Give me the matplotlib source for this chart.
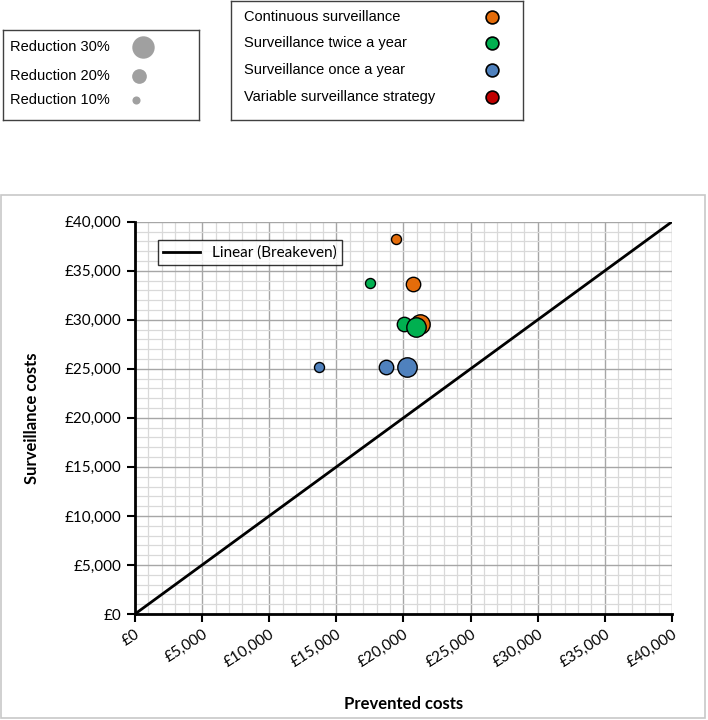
import numpy as np
import matplotlib
matplotlib.use("Agg")
import matplotlib.pyplot as plt
from matplotlib.patches import Rectangle
from matplotlib.ticker import MultipleLocator, FuncFormatter

# data
strategies = ["Continuous surveillance", "Surveillance twice a year",
              "Surveillance once a year", "Variable surveillance strategy"]
colors = ["#E46C0A", "#00B050", "#4F81BD", "#C00000"]
reductions = [10, 20, 30]
prevented = {
    "Continuous surveillance": [19450, 20740, 21240],
    "Surveillance twice a year": [17510, 20040, 20940],
    "Surveillance once a year": [13710, 18700, 20290],
}
surveillance = {
    "Continuous surveillance": [38200, 33650, 29550],
    "Surveillance twice a year": [33700, 29530, 29290],
    "Surveillance once a year": [25200, 25200, 25200],
}
breakeven = [0, 40000]

chart_font = "Lato"
box_font = ["Liberation Sans", "DejaVu Sans"]

W, H = 708, 720
fig = plt.figure(figsize=(W / 100, H / 100), dpi=100)

def fx(px): return px / W
def fy(py): return 1 - py / H

# outer chart border
fig.patches.append(Rectangle((fx(1), fy(718)), fx(704), 523 / H, transform=fig.transFigure,
                             fill=False, ec="#c8c8c8", lw=1.2))

ax = fig.add_axes([fx(135), fy(614), fx(537), 392.3 / H])
bub = {10: 52, 20: 108, 30: 195}
for s, c in zip(strategies, colors):
    if s not in prevented:
        continue
    for x, y, r in zip(prevented[s], surveillance[s], reductions):
        ax.scatter(x, y, s=bub[r], color=c, edgecolor="black", lw=1.0, zorder=3)
ax.plot(breakeven, breakeven, color="black", lw=2, label="Linear (Breakeven)", zorder=2)

ax.set_xlim(0, 40000); ax.set_ylim(0, 40000)
ax.xaxis.set_major_locator(MultipleLocator(5000))
ax.yaxis.set_major_locator(MultipleLocator(5000))
ax.xaxis.set_minor_locator(MultipleLocator(1000))
ax.yaxis.set_minor_locator(MultipleLocator(1000))
fmt = FuncFormatter(lambda v, p: f"£{v:,.0f}")
ax.xaxis.set_major_formatter(fmt); ax.yaxis.set_major_formatter(fmt)
ax.grid(which="major", color="#a6a6a6", lw=1.0)
ax.grid(which="minor", color="#d9d9d9", lw=0.9)
ax.set_axisbelow(True)
for sp in ["top", "right"]:
    ax.spines[sp].set_visible(False)
for sp in ["left", "bottom"]:
    ax.spines[sp].set_linewidth(2)
ax.tick_params(which="major", length=6, width=1.5, labelsize=11)
ax.tick_params(which="minor", length=0)
for lab in ax.get_xticklabels() + ax.get_yticklabels():
    lab.set_fontfamily(chart_font)
plt.setp(ax.get_xticklabels(), rotation=33, ha="right", rotation_mode="anchor")
ax.set_xlabel("Prevented costs", fontsize=12, fontweight="bold", family=chart_font, labelpad=19)
ax.set_ylabel("Surveillance costs", fontsize=12, fontweight="bold", family=chart_font, labelpad=18)
leg = ax.legend(loc="upper left", bbox_to_anchor=(0.028, 0.972), prop={"family": chart_font, "size": 11},
                fancybox=False, edgecolor="black", handlelength=2.4, borderpad=0.35)
leg.get_frame().set_linewidth(1.0)

# size legend box (top left)
axs = fig.add_axes([fx(3), fy(120), fx(196), 90 / H])
axs.set_xlim(3, 199); axs.set_ylim(120, 30)
axs.set_xticks([]); axs.set_yticks([])
gsize = {30: 260, 20: 112, 10: 34}
gx = {30: 143, 20: 139, 10: 136}
for r, yy in zip([30, 20, 10], [46.7, 75.5, 99.5]):
    axs.text(10, yy, f"Reduction {r}%", va="center", ha="left", fontsize=10.5, family=box_font)
    axs.scatter(gx[r], yy, s=gsize[r], color="#a0a0a0", lw=0)

# strategy legend box (top middle)
axc = fig.add_axes([fx(231), fy(119.5), fx(292), 119 / H])
axc.set_xlim(231, 523); axc.set_ylim(119.5, 0.5)
axc.set_xticks([]); axc.set_yticks([])
for s, c, yy in zip(strategies, colors, [17, 43.3, 70, 96.5]):
    axc.text(244, yy, s, va="center", ha="left", fontsize=10.5, family=box_font)
    axc.scatter(492, yy, s=85, color=c, edgecolor="black", lw=1.2)
for a in (axs, axc):
    for sp in a.spines.values():
        sp.set_linewidth(1.0); sp.set_color("#404040")

fig.savefig("out.png", dpi=100)
